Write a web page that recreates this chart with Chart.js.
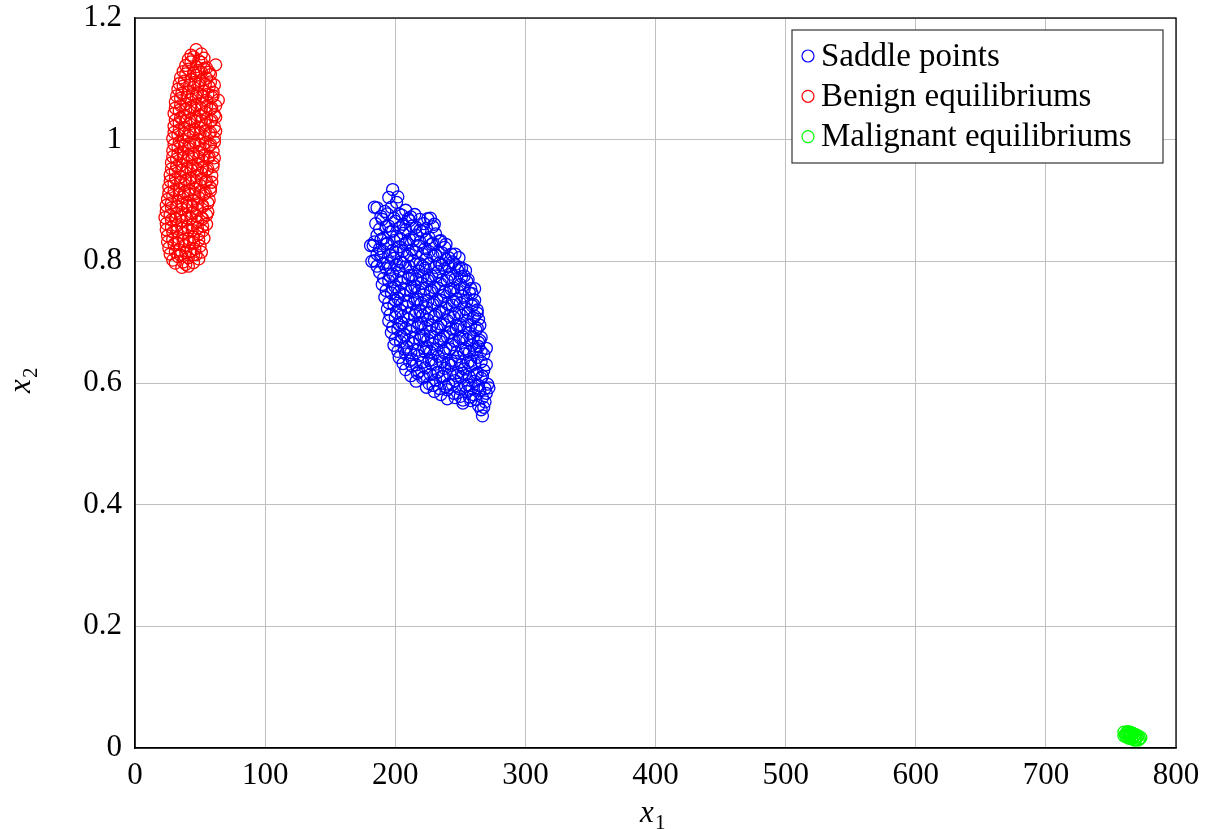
<!DOCTYPE html>
<html>
<head>
<meta charset="utf-8">
<script src="https://cdn.jsdelivr.net/npm/chart.js@4"></script>
<style>
  body { margin: 0; background: #fff; }
  canvas { display: block; }
</style>
</head>
<body>
<canvas id="myChart" width="1212" height="829"></canvas>
<script>
// values, [x1, x2]
var saddlePoints = [
  [198,0.918],[195,0.905],[201,0.897],
  [186,0.888],[192,0.882],[197,0.889],[203,0.878],[208,0.884],[212,0.873],
  [185,0.862],[190,0.869],[195,0.858],[200,0.866],[206,0.861],[211,0.867],[216,0.856],[222,0.862],[227,0.871],
  [186,0.843],[191,0.838],[196,0.848],[201,0.841],[206,0.846],[211,0.836],[216,0.843],[221,0.849],[226,0.839],[231,0.845],[235,0.834],
  [183,0.826],[188,0.821],[193,0.828],[198,0.818],[203,0.824],[208,0.829],[213,0.819],[218,0.826],[223,0.821],[228,0.828],[233,0.816],[238,0.823],[243,0.812],
  [184,0.801],[189,0.807],[194,0.798],[199,0.805],[204,0.799],[209,0.808],[214,0.801],[219,0.796],[224,0.804],[229,0.809],[234,0.797],[239,0.803],[244,0.799],[249,0.806],
  [188,0.782],[193,0.788],[198,0.779],[203,0.785],[208,0.791],[213,0.777],[218,0.784],[223,0.789],[228,0.776],[233,0.783],[238,0.788],[243,0.779],[248,0.785],[253,0.776],
  [190,0.762],[195,0.768],[200,0.758],[205,0.765],[210,0.771],[215,0.759],[220,0.764],[225,0.769],[230,0.757],[235,0.763],[240,0.768],[245,0.756],[250,0.762],[255,0.767],[258,0.755],
  [192,0.741],[197,0.748],[202,0.739],[207,0.744],[212,0.751],[217,0.738],[222,0.745],[227,0.749],[232,0.737],[237,0.744],[242,0.75],[247,0.738],[252,0.743],[257,0.748],[261,0.736],
  [194,0.722],[199,0.728],[204,0.719],[209,0.726],[214,0.731],[219,0.718],[224,0.724],[229,0.729],[234,0.717],[239,0.723],[244,0.728],[249,0.716],[254,0.722],[259,0.727],[263,0.715],
  [195,0.702],[200,0.708],[205,0.699],[210,0.705],[215,0.711],[220,0.698],[225,0.704],[230,0.709],[235,0.697],[240,0.703],[245,0.708],[250,0.696],[255,0.702],[260,0.707],[265,0.695],
  [197,0.683],[202,0.688],[207,0.679],[212,0.685],[217,0.691],[222,0.678],[227,0.684],[232,0.689],[237,0.677],[242,0.683],[247,0.688],[252,0.676],[257,0.682],[262,0.687],[266,0.675],
  [199,0.662],[204,0.668],[209,0.659],[214,0.665],[219,0.671],[224,0.658],[229,0.664],[234,0.669],[239,0.657],[244,0.663],[249,0.668],[254,0.656],[259,0.662],[264,0.667],
  [203,0.642],[208,0.648],[213,0.639],[218,0.645],[223,0.651],[228,0.638],[233,0.644],[238,0.649],[243,0.637],[248,0.643],[253,0.648],[258,0.636],[263,0.642],[268,0.647],
  [208,0.622],[213,0.628],[218,0.619],[223,0.625],[228,0.631],[233,0.618],[238,0.624],[243,0.629],[248,0.617],[253,0.623],[258,0.628],[263,0.616],[268,0.621],
  [216,0.603],[221,0.608],[226,0.599],[231,0.605],[236,0.611],[241,0.598],[246,0.604],[251,0.609],[256,0.597],[261,0.603],[266,0.608],[271,0.598],
  [230,0.586],[235,0.581],[240,0.589],[245,0.583],[250,0.578],[255,0.586],[260,0.581],[265,0.588],[270,0.583],
  [252,0.567],[258,0.571],[264,0.563],[269,0.569],[266,0.556],
  [267,0.546],
  [189,0.874],[194,0.878],[199,0.871],[205,0.876],[210,0.87],[215,0.877],[219,0.869],
  [188,0.853],[193,0.857],[198,0.85],[203,0.855],[208,0.852],[213,0.858],[219,0.851],[224,0.854],[229,0.857],
  [184,0.832],[189,0.836],[194,0.83],[199,0.834],[204,0.837],[209,0.831],[214,0.835],[219,0.832],[224,0.836],[229,0.83],[234,0.833],[239,0.828],
  [186,0.812],[191,0.816],[196,0.81],[201,0.814],[206,0.817],[211,0.811],[216,0.815],[221,0.812],[226,0.816],[231,0.81],[236,0.814],[241,0.806],[246,0.812],
  [186,0.792],[191,0.796],[196,0.79],[201,0.794],[206,0.797],[211,0.791],[216,0.795],[221,0.792],[226,0.796],[231,0.79],[236,0.794],[241,0.791],[246,0.795],[251,0.789],
  [191,0.772],[196,0.776],[201,0.77],[206,0.774],[211,0.777],[216,0.771],[221,0.775],[226,0.772],[231,0.776],[236,0.77],[241,0.774],[246,0.771],[251,0.775],[256,0.77],
  [193,0.752],[198,0.756],[203,0.75],[208,0.754],[213,0.757],[218,0.751],[223,0.755],[228,0.752],[233,0.756],[238,0.75],[243,0.754],[248,0.751],[253,0.755],[259,0.747],
  [195,0.732],[200,0.736],[205,0.73],[210,0.734],[215,0.737],[220,0.731],[225,0.735],[230,0.732],[235,0.736],[240,0.73],[245,0.734],[250,0.731],[255,0.735],[260,0.729],
  [196,0.712],[201,0.716],[206,0.71],[211,0.714],[216,0.717],[221,0.711],[226,0.715],[231,0.712],[236,0.716],[241,0.71],[246,0.714],[251,0.711],[256,0.715],[261,0.71],[264,0.705],
  [198,0.692],[203,0.696],[208,0.69],[213,0.694],[218,0.697],[223,0.691],[228,0.695],[233,0.692],[238,0.696],[243,0.69],[248,0.694],[253,0.691],[258,0.695],[263,0.69],
  [200,0.672],[205,0.676],[210,0.67],[215,0.674],[220,0.677],[225,0.671],[230,0.675],[235,0.672],[240,0.676],[245,0.67],[250,0.674],[255,0.671],[260,0.675],[265,0.67],
  [202,0.652],[207,0.656],[212,0.65],[217,0.654],[222,0.657],[227,0.651],[232,0.655],[237,0.652],[242,0.656],[247,0.65],[252,0.654],[257,0.651],[262,0.655],[266,0.652],
  [206,0.632],[211,0.636],[216,0.63],[221,0.634],[226,0.637],[231,0.631],[236,0.635],[241,0.632],[246,0.636],[251,0.63],[256,0.634],[261,0.631],[266,0.635],[270,0.63],
  [212,0.612],[217,0.616],[222,0.61],[227,0.614],[232,0.617],[237,0.611],[242,0.615],[247,0.612],[252,0.616],[257,0.61],[262,0.614],[267,0.611],
  [224,0.593],[229,0.596],[234,0.591],[239,0.594],[244,0.597],[249,0.591],[254,0.595],[259,0.592],[264,0.596],[269,0.591],
  [240,0.574],[246,0.576],[252,0.572],[257,0.577],[262,0.573],[267,0.576],
  [181,0.826],[182,0.8],[184,0.889],[202,0.906],[225,0.87],[230,0.861],[249,0.79],[254,0.785],
  [264,0.66],[270,0.657],[272,0.592],[268,0.56],[261,0.755],[263,0.72]
];

var benignPoints = [
  [47,1.148],[51,1.141],[43,1.139],
  [39,1.122],[43,1.128],[47,1.12],[51,1.127],[55,1.118],[62,1.123],
  [35,1.102],[39,1.108],[43,1.099],[47,1.106],[51,1.111],[55,1.101],[58,1.107],
  [33,1.083],[37,1.088],[41,1.079],[45,1.086],[49,1.091],[53,1.08],[57,1.087],[60,1.078],
  [31,1.062],[35,1.068],[39,1.059],[43,1.066],[47,1.071],[51,1.06],[55,1.065],[59,1.07],[64,1.065],
  [30,1.043],[34,1.048],[38,1.039],[42,1.046],[46,1.051],[50,1.04],[54,1.045],[58,1.05],[61,1.041],
  [30,1.022],[34,1.028],[38,1.019],[42,1.026],[46,1.031],[50,1.02],[54,1.025],[58,1.03],[61,1.021],
  [29,1.002],[33,1.008],[37,0.999],[41,1.006],[45,1.011],[49,1.0],[53,1.005],[57,1.01],[61,1.003],
  [29,0.982],[33,0.988],[37,0.979],[41,0.986],[45,0.991],[49,0.98],[53,0.985],[57,0.99],[60,0.981],
  [28,0.962],[32,0.968],[36,0.959],[40,0.966],[44,0.971],[48,0.96],[52,0.965],[56,0.97],[60,0.961],
  [27,0.942],[31,0.948],[35,0.939],[39,0.946],[43,0.951],[47,0.94],[51,0.945],[55,0.95],[59,0.941],
  [26,0.922],[30,0.928],[34,0.919],[38,0.926],[42,0.931],[46,0.92],[50,0.925],[54,0.93],[58,0.921],
  [25,0.902],[29,0.908],[33,0.899],[37,0.906],[41,0.911],[45,0.9],[49,0.905],[53,0.91],[57,0.901],
  [24,0.882],[28,0.888],[32,0.879],[36,0.886],[40,0.891],[44,0.88],[48,0.885],[52,0.89],[56,0.881],
  [24,0.862],[28,0.868],[32,0.859],[36,0.866],[40,0.871],[44,0.86],[48,0.865],[52,0.87],[55,0.861],
  [25,0.842],[29,0.848],[33,0.839],[37,0.846],[41,0.851],[45,0.84],[49,0.845],[52,0.85],
  [26,0.822],[30,0.828],[34,0.819],[38,0.826],[42,0.831],[46,0.82],[50,0.825],
  [29,0.802],[33,0.808],[37,0.799],[41,0.806],[45,0.811],[49,0.804],
  [36,0.79],[41,0.792],
  [41,1.132],[45,1.136],[49,1.13],[53,1.134],
  [37,1.112],[41,1.116],[45,1.11],[49,1.114],[53,1.117],[57,1.111],
  [34,1.092],[38,1.096],[42,1.09],[46,1.094],[50,1.097],[54,1.091],[58,1.095],[61,1.09],
  [32,1.072],[36,1.076],[40,1.07],[44,1.074],[48,1.077],[52,1.071],[56,1.075],[60,1.072],
  [31,1.052],[35,1.056],[39,1.05],[43,1.054],[47,1.057],[51,1.051],[55,1.055],[59,1.052],[62,1.056],
  [31,1.032],[35,1.036],[39,1.03],[43,1.034],[47,1.037],[51,1.031],[55,1.035],[59,1.032],[62,1.037],
  [30,1.012],[34,1.016],[38,1.01],[42,1.014],[46,1.017],[50,1.011],[54,1.015],[58,1.012],[62,1.014],
  [30,0.992],[34,0.996],[38,0.99],[42,0.994],[46,0.997],[50,0.991],[54,0.995],[58,0.992],[61,0.996],
  [29,0.972],[33,0.976],[37,0.97],[41,0.974],[45,0.977],[49,0.971],[53,0.975],[57,0.972],[61,0.97],
  [28,0.952],[32,0.956],[36,0.95],[40,0.954],[44,0.957],[48,0.951],[52,0.955],[56,0.952],[60,0.956],
  [27,0.932],[31,0.936],[35,0.93],[39,0.934],[43,0.937],[47,0.931],[51,0.935],[55,0.932],[59,0.93],
  [26,0.912],[30,0.916],[34,0.91],[38,0.914],[42,0.917],[46,0.911],[50,0.915],[54,0.912],[58,0.916],
  [24,0.892],[28,0.896],[32,0.89],[36,0.894],[40,0.897],[44,0.891],[48,0.895],[52,0.892],[56,0.896],
  [23,0.872],[27,0.876],[31,0.87],[35,0.874],[39,0.877],[43,0.871],[47,0.875],[51,0.872],[55,0.876],
  [24,0.852],[28,0.856],[32,0.85],[36,0.854],[40,0.857],[44,0.851],[48,0.855],[52,0.858],
  [25,0.832],[29,0.836],[33,0.83],[37,0.834],[41,0.837],[45,0.831],[49,0.835],[53,0.838],
  [27,0.812],[31,0.816],[35,0.81],[39,0.814],[43,0.817],[47,0.811],[51,0.815],
  [31,0.797],[39,0.795],[45,0.798]
];

var malignantPoints = [
  [760,0.026],[762,0.025],[764,0.024],[766,0.022],[768,0.02],[770,0.018],[772,0.015],
  [761,0.022],[763,0.021],[765,0.019],[767,0.017],[769,0.014],[771,0.013],
  [763,0.027],[765,0.026],[767,0.024],[769,0.022],[771,0.02],[773,0.017],
  [766,0.015],[768,0.013],[760,0.02],[762,0.018],[764,0.016]
];

var seriesNames = ['Saddle points', 'Benign equilibriums', 'Malignant equilibriums'];
var seriesColors = ['#0000ff', '#ff0000', '#00ff00'];
var xTicks = [0, 100, 200, 300, 400, 500, 600, 700, 800];
var yTicks = [0, 0.2, 0.4, 0.6, 0.8, 1, 1.2];

var serif = '"Liberation Serif", "DejaVu Serif", serif';

function toXY(list) {
  return list.map(function (p) { return { x: p[0], y: p[1] }; });
}

// box around the plot, inner legend and axis labels (pgfplots look)
var framePlugin = {
  id: 'frame',
  afterDraw: function (chart) {
    var c = chart.ctx;
    var a = chart.chartArea;
    c.save();
    c.strokeStyle = '#000';
    c.lineWidth = 1.3;
    c.strokeRect(a.left, a.top, a.right - a.left, a.bottom - a.top);

    // legend
    var lx = 792, ly = 30, lw = 371, lh = 133;
    c.fillStyle = '#fff';
    c.fillRect(lx, ly, lw, lh);
    c.strokeStyle = '#333';
    c.lineWidth = 1.2;
    c.strokeRect(lx, ly, lw, lh);
    c.font = '33px ' + serif;
    c.textBaseline = 'middle';
    c.textAlign = 'left';
    chart.data.datasets.forEach(function (ds, i) {
      var cy = 56 + i * 40.3;
      c.beginPath();
      c.arc(808, cy, 6, 0, Math.PI * 2);
      c.strokeStyle = ds.borderColor;
      c.lineWidth = 1.2;
      c.stroke();
      c.fillStyle = '#000';
      c.fillText(ds.label, 821, cy + 1);
    });

    // axis titles
    c.fillStyle = '#000';
    c.textBaseline = 'alphabetic';
    c.font = 'italic 31px ' + serif;
    c.fillText('x', 640, 822);
    c.font = '21px ' + serif;
    c.fillText('1', 655, 829);

    c.translate(30, 383);
    c.rotate(-Math.PI / 2);
    c.font = 'italic 31px ' + serif;
    c.fillText('x', -10, 0);
    c.font = '21px ' + serif;
    c.fillText('2', 5, 7);
    c.restore();
  }
};

var ctx = document.getElementById('myChart').getContext('2d');
var myChart = new Chart(ctx, {
  type: 'scatter',
  data: {
    datasets: [
      { label: seriesNames[0], data: toXY(saddlePoints), borderColor: seriesColors[0] },
      { label: seriesNames[1], data: toXY(benignPoints), borderColor: seriesColors[1] },
      { label: seriesNames[2], data: toXY(malignantPoints), borderColor: seriesColors[2] }
    ].map(function (d) {
      d.backgroundColor = 'rgba(0,0,0,0)';
      d.pointRadius = 6;
      d.pointHoverRadius = 6;
      d.borderWidth = 1.3;
      return d;
    })
  },
  options: {
    responsive: false,
    animation: false,
    events: [],
    layout: { padding: { top: 18, right: 36, left: 0, bottom: 0 } },
    plugins: { legend: { display: false }, tooltip: { enabled: false } },
    scales: {
      x: {
        type: 'linear',
        min: 0, max: 800,
        afterBuildTicks: function (s) { s.ticks = xTicks.map(function (v) { return { value: v }; }); },
        afterFit: function (s) { s.height = 81; s.paddingLeft = 0; s.paddingRight = 0; },
        grid: { color: '#bfbfbf', lineWidth: 1, drawTicks: false },
        border: { color: '#000', width: 1.3 },
        ticks: { color: '#000', padding: 9, maxRotation: 0, font: { family: serif, size: 31 },
                 callback: function (v) { return String(v); } }
      },
      y: {
        type: 'linear',
        min: 0, max: 1.2,
        afterBuildTicks: function (s) { s.ticks = yTicks.map(function (v) { return { value: v }; }); },
        afterFit: function (s) { s.width = 135; s.paddingTop = 0; s.paddingBottom = 0; },
        grid: { color: '#bfbfbf', lineWidth: 1, drawTicks: false },
        border: { color: '#000', width: 1.3 },
        ticks: { color: '#000', padding: 13, font: { family: serif, size: 31 },
                 callback: function (v) { return String(Math.round(v * 10) / 10); } }
      }
    }
  },
  plugins: [framePlugin]
});
</script>
</body>
</html>
